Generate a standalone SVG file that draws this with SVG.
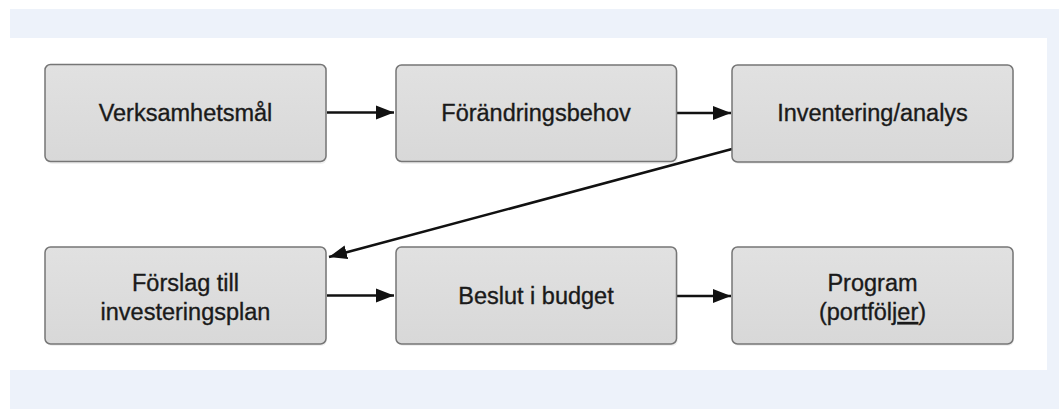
<svg xmlns="http://www.w3.org/2000/svg" width="1059" height="409" viewBox="0 0 1059 409">
<style>
.box{fill:url(#g);stroke:#767676;stroke-width:1.5}
.sh{fill:#000;opacity:0.06}
.t{font-family:"Liberation Sans",Arial,Helvetica,sans-serif;font-size:23.5px;fill:#1a1a1a;stroke:#1a1a1a;stroke-width:0.35;text-anchor:middle}
.c{stroke:#111;stroke-width:2.6;fill:none;marker-end:url(#ah)}
</style>
<defs>
<linearGradient id="g" x1="0" y1="0" x2="0" y2="1">
<stop offset="0" stop-color="#e1e1e1"/>
<stop offset="1" stop-color="#d8d8d8"/>
</linearGradient>
<marker id="ah" markerWidth="20" markerHeight="16" refX="18" refY="8" orient="auto" markerUnits="userSpaceOnUse">
<path d="M0,1 L18,8 L0,15 z" fill="#111"/>
</marker>
</defs>
<rect x="10" y="9" width="1049" height="400" fill="#edf2fa"/>
<rect x="10" y="38" width="1037" height="332" fill="#ffffff"/>
<g id="connectors">
<line class="c" x1="327" y1="112.5" x2="394" y2="112.5"/>
<line class="c" x1="677" y1="113" x2="731" y2="113"/>
<line class="c" x1="732" y1="149" x2="329" y2="257"/>
<line class="c" x1="327" y1="295.5" x2="394" y2="295.5"/>
<line class="c" x1="677" y1="296" x2="731" y2="296"/>
</g>
<g id="n1">
<rect class="sh" x="46" y="66" width="281" height="98" rx="6"/>
<rect class="box" x="45" y="64.5" width="281" height="97" rx="5.5"/>
<text class="t" x="185.5" y="121">Verksamhetsmål</text>
</g>
<g id="n2">
<rect class="sh" x="397" y="66" width="281" height="98" rx="6"/>
<rect class="box" x="396" y="65" width="280.5" height="96.5" rx="5.5"/>
<text class="t" x="536" y="121">Förändringsbehov</text>
</g>
<g id="n3">
<rect class="sh" x="733" y="66" width="281" height="98" rx="6"/>
<rect class="box" x="732" y="65" width="281" height="97" rx="5.5"/>
<text class="t" x="872.5" y="121">Inventering/analys</text>
</g>
<g id="n4">
<rect class="sh" x="46" y="249" width="281" height="97" rx="6"/>
<rect class="box" x="45" y="247" width="281" height="97" rx="5.5"/>
<text class="t" x="185.5" y="291">Förslag till</text>
<text class="t" x="185.5" y="320">investeringsplan</text>
</g>
<g id="n5">
<rect class="sh" x="397" y="249" width="281" height="97" rx="6"/>
<rect class="box" x="396" y="247" width="280.5" height="97" rx="5.5"/>
<text class="t" x="536" y="304">Beslut i budget</text>
</g>
<g id="n6">
<rect class="sh" x="733" y="249" width="281" height="97" rx="6"/>
<rect class="box" x="732" y="247" width="281" height="97" rx="5.5"/>
<text class="t" x="872.5" y="291">Program</text>
<text class="t" x="872.5" y="320">(portfölj<tspan text-decoration="underline">er</tspan>)</text>
</g>
</svg>
